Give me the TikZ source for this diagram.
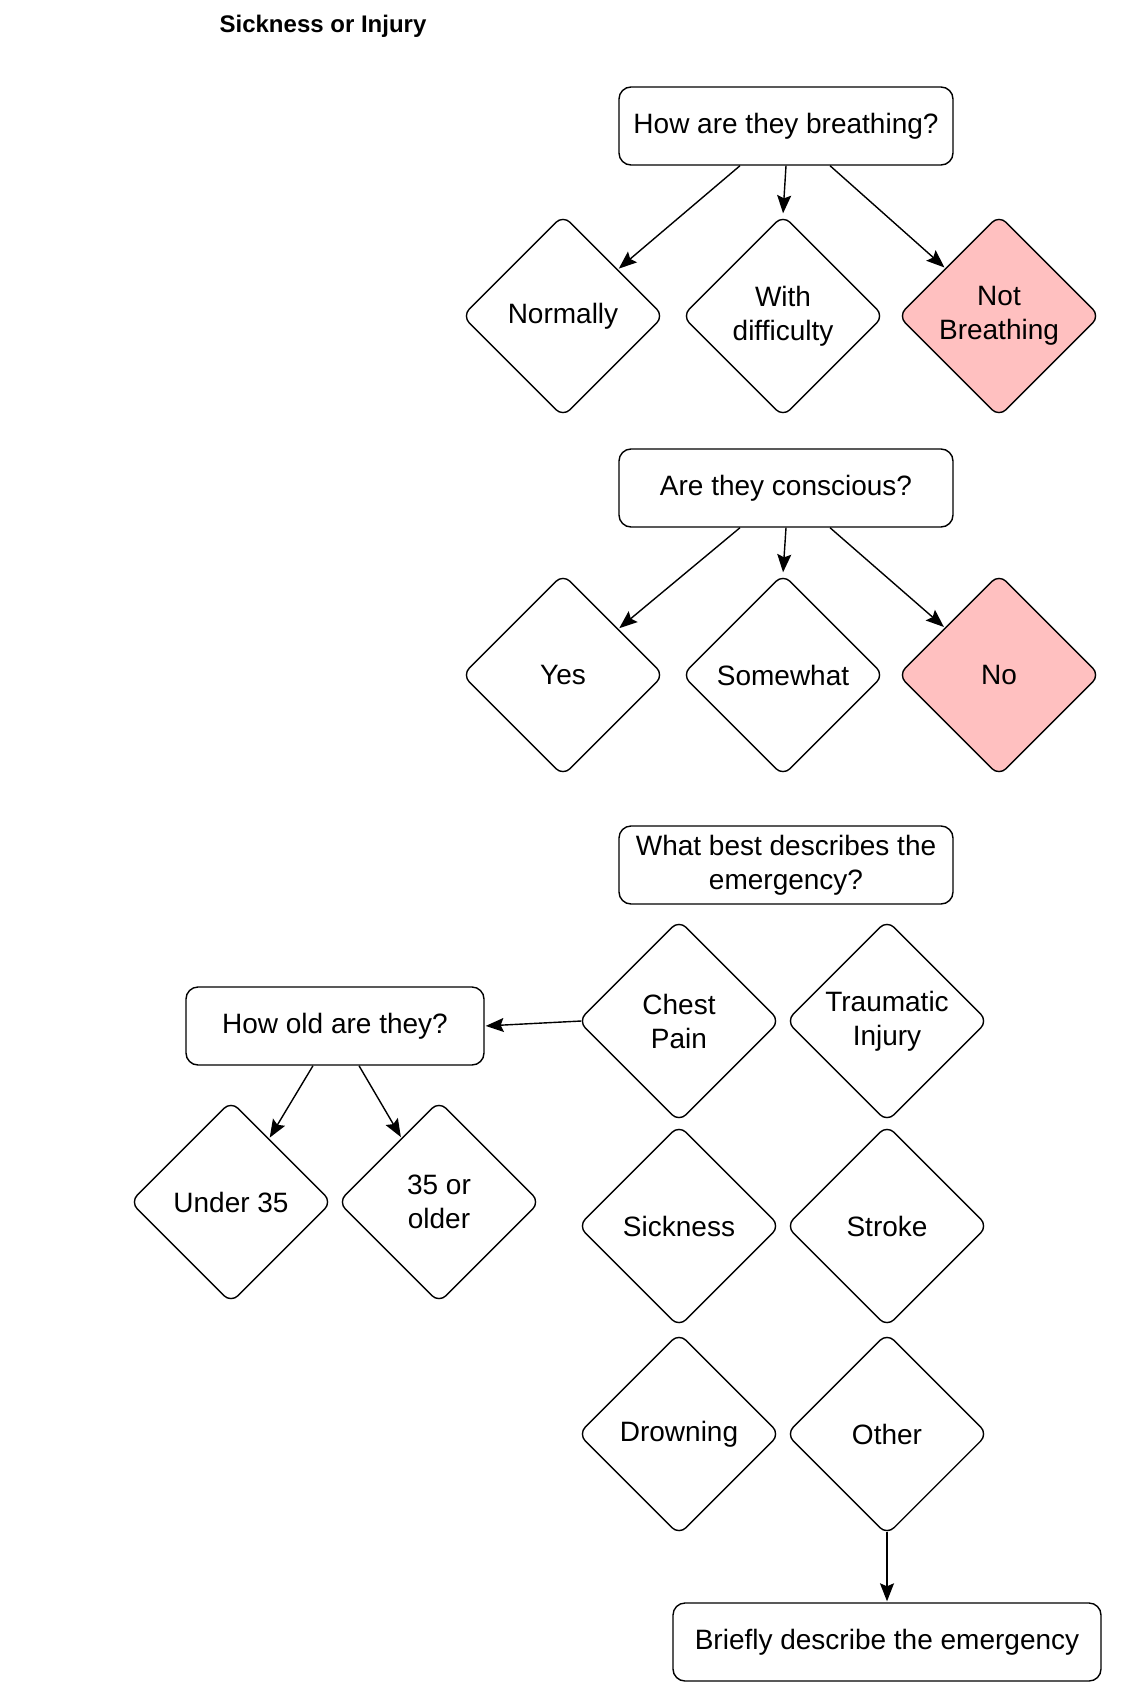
\documentclass[tikz,border=0pt]{standalone}
\usepackage{fontspec}
\setmainfont{Liberation Sans}
\usetikzlibrary{arrows.meta,shapes.geometric}

\definecolor{urgentpink}{RGB}{255,192,192}

\tikzset{
  question/.style={draw, rounded corners=6pt, minimum width=167pt, minimum height=39pt,
    align=center, font=\fontsize{14}{17}\selectfont},
  answer/.style={draw, diamond, rounded corners=5pt, minimum width=101pt, minimum height=101pt,
    inner sep=0pt, align=center, font=\fontsize{14}{17}\selectfont},
  urgent/.style={answer, fill=urgentpink}
}

\begin{document}
\begin{tikzpicture}[->,>={Stealth[length=9pt,width=7pt,inset=1.5pt]},shorten >=0.5pt,auto,
        node distance=104pt,x=0.5pt,y=-0.5pt,line width=0.7pt]

  \useasboundingbox (0,0) rectangle (1128,1702);

  \node[font=\bfseries\fontsize{12}{14}\selectfont] (Title) at (323,26) {Sickness or Injury};

  % breathing
  \node[question] (Breathing) at (786,126) {How are they breathing?};
  \node[answer] (Normally) at (563,316) {Normally};
  \node[answer] (Difficulty) [right of=Normally, node distance=110pt] {With\\difficulty};
  \node[urgent] (Not Breathing) [right of=Difficulty, node distance=108pt] {Not\\Breathing};

  % conscious
  \node[question] (Conscious) at (786,488) {Are they conscious?};
  \node[answer] (Yes) at (563,675) {Yes};
  \node[answer] (Somewhat) [right of=Yes, node distance=110pt] {Somewhat};
  \node[urgent] (No) [right of=Somewhat, node distance=108pt] {No};

  % emergency
  \node[question] (Emergency) at (786,865) {What best describes the\\emergency?};
  \node[answer] (Chest Pain) at (679,1021) {Chest\\Pain};
  \node[answer] (Traumatic) [right of=Chest Pain] {Traumatic\\Injury};
  \node[answer] (Sickness) [below of=Chest Pain, node distance=102.5pt] {Sickness};
  \node[answer] (Stroke) [right of=Sickness] {Stroke};
  \node[answer] (Drowning) [below of=Sickness] {Drowning};
  \node[answer] (Other) [right of=Drowning] {Other};
  \node[question, minimum width=214pt] (Describe) [below of=Other] {Briefly describe the emergency};

  % age
  \node[question, minimum width=149pt] (Age) at (335,1026) {How old are they?};
  \node[answer] (Under) at (231,1202) {Under 35};
  \node[answer] (Older) [right of=Under] {35 or\\older};

  \path ([xshift=-23pt]Breathing.south) edge (Normally)
        (Breathing.south) edge (Difficulty.north)
        ([xshift=22pt]Breathing.south) edge (Not Breathing)

        ([xshift=-23pt]Conscious.south) edge (Yes)
        (Conscious.south) edge (Somewhat.north)
        ([xshift=22pt]Conscious.south) edge (No)

        ([xshift=2pt]Chest Pain.west) edge (Age.east)
        ([xshift=-11pt]Age.south) edge (Under)
        ([xshift=12pt]Age.south) edge (Older)

        ([yshift=2pt]Other.south) edge (Describe.north);
\end{tikzpicture}
\end{document}
